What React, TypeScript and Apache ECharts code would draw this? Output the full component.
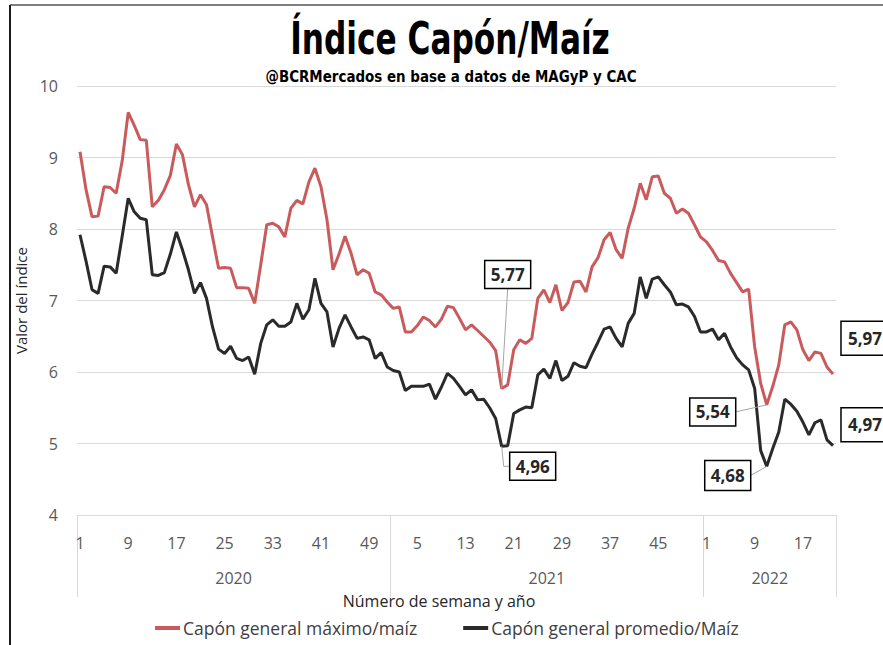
import React, { useEffect, useRef } from "react";
import * as echarts from "echarts";

const years = ["2020", "2021", "2022"];
const weeksPerYear = [52, 52, 22];
const yearCenters = [26, 78, 115];
const yearBounds = [0, 52, 104, 126];

const maxSeriesName = "Capón general máximo/maíz";
const avgSeriesName = "Capón general promedio/Maíz";

const maxValues = [
  9.08, 8.55, 8.17, 8.18, 8.59, 8.58, 8.50, 8.95, 9.63, 9.45,
  9.25, 9.24, 8.31, 8.40, 8.55, 8.75, 9.19, 9.04, 8.62, 8.31,
  8.48, 8.34, 7.89, 7.45, 7.46, 7.45, 7.18, 7.18, 7.17, 6.96,
  7.50, 8.06, 8.08, 8.03, 7.89, 8.29, 8.40, 8.35, 8.66, 8.85,
  8.59, 8.13, 7.43, 7.65, 7.90, 7.66, 7.36, 7.43, 7.38, 7.12,
  7.08, 6.98, 6.89, 6.91, 6.56, 6.56, 6.65, 6.77, 6.72, 6.63,
  6.74, 6.92, 6.90, 6.75, 6.59, 6.66, 6.58, 6.50, 6.42, 6.30,
  5.77, 5.82, 6.31, 6.45, 6.40, 6.47, 7.03, 7.15, 6.97, 7.22,
  6.86, 6.97, 7.26, 7.27, 7.12, 7.47, 7.60, 7.85, 7.95, 7.71,
  7.59, 8.01, 8.29, 8.64, 8.41, 8.73, 8.74, 8.50, 8.43, 8.22,
  8.28, 8.22, 8.06, 7.89, 7.82, 7.70, 7.56, 7.54, 7.38, 7.25,
  7.12, 7.16, 6.35, 5.84, 5.54, 5.80, 6.10, 6.66, 6.70, 6.59,
  6.31, 6.16, 6.28, 6.26, 6.07, 5.97,
];

const avgValues = [
  7.92, 7.55, 7.15, 7.10, 7.48, 7.47, 7.38, 7.90, 8.43, 8.24,
  8.15, 8.13, 7.36, 7.35, 7.39, 7.65, 7.96, 7.71, 7.43, 7.10,
  7.25, 7.03, 6.63, 6.32, 6.26, 6.36, 6.19, 6.16, 6.21, 5.97,
  6.40, 6.66, 6.73, 6.64, 6.64, 6.70, 6.96, 6.74, 6.87, 7.31,
  6.96, 6.84, 6.35, 6.61, 6.80, 6.63, 6.47, 6.49, 6.45, 6.19,
  6.27, 6.07, 6.02, 6.00, 5.74, 5.80, 5.80, 5.80, 5.83, 5.62,
  5.79, 5.98, 5.91, 5.80, 5.68, 5.75, 5.61, 5.62, 5.50, 5.35,
  4.96, 4.97, 5.42, 5.47, 5.51, 5.50, 5.96, 6.04, 5.91, 6.16,
  5.88, 5.94, 6.13, 6.08, 6.06, 6.25, 6.42, 6.60, 6.63, 6.47,
  6.35, 6.68, 6.82, 7.33, 7.03, 7.30, 7.33, 7.22, 7.12, 6.94,
  6.95, 6.91, 6.78, 6.56, 6.56, 6.60, 6.45, 6.54, 6.35, 6.20,
  6.10, 6.03, 5.77, 4.90, 4.68, 4.93, 5.16, 5.62, 5.55, 5.45,
  5.30, 5.12, 5.29, 5.33, 5.05, 4.97,
];

// annotated points: series index, data index, label text
const annotations = [
  { series: 0, index: 70, text: "5,77" },
  { series: 1, index: 70, text: "4,96" },
  { series: 0, index: 114, text: "5,54" },
  { series: 1, index: 114, text: "4,68" },
  { series: 0, index: 125, text: "5,97" },
  { series: 1, index: 125, text: "4,97" },
];

// label box placement relative to the point (style only)
const annotationStyles = [
  { dx: 6, dy: -114, w: 46, h: 28, leader: "up" },
  { dx: 31, dy: 20, w: 46, h: 28, leader: "elbow" },
  { dx: -54, dy: 7, w: 46, h: 28, leader: "left" },
  { dx: -39, dy: 9, w: 46, h: 30, leader: "left" },
  { dx: 32, dy: -36, w: 48, h: 34, leader: "none" },
  { dx: 32, dy: -21, w: 48, h: 34, leader: "none" },
];

const weekCategories: string[] = [];
years.forEach((y, yi) => {
  for (let w = 1; w <= weeksPerYear[yi]; w++) weekCategories.push(String(w));
});

const RED = "#c95b5c";
const DARK = "#2a2a2a";
const AXIS_TEXT = "#595959";
const FONT = "'Open Sans', 'Noto Sans', sans-serif";
const TITLE_FONT = "'DejaVu Sans', sans-serif";

export default function App() {
  const ref = useRef<HTMLDivElement>(null);

  useEffect(() => {
    if (!ref.current) return;
    const chart = echarts.init(ref.current, null, { renderer: "svg" });
    const seriesData = [maxValues, avgValues];

    chart.setOption({
      animation: false,
      backgroundColor: "#ffffff",
      grid: { left: 77, right: 47, top: 86, bottom: 130, containLabel: false },
      legend: {
        data: [maxSeriesName, avgSeriesName],
        left: 150,
        top: 614,
        icon: "rect",
        itemWidth: 25,
        itemHeight: 4,
        itemGap: 46,
        textStyle: { fontFamily: FONT, fontSize: 17.5, color: "#404040", padding: [0, 0, 0, -2] },
      },
      xAxis: [
        {
          type: "category",
          data: weekCategories,
          boundaryGap: true,
          axisLine: { show: true, lineStyle: { color: "#d9d9d9", width: 1 } },
          axisTick: { show: false },
          axisLabel: {
            interval: 7,
            margin: 20,
            fontFamily: FONT,
            fontSize: 16,
            color: AXIS_TEXT,
          },
          splitLine: { show: false },
        },
        {
          type: "value",
          position: "bottom",
          offset: 0,
          min: 0,
          max: 126,
          axisLine: { show: false },
          splitLine: { show: false },
          axisTick: {
            show: true,
            customValues: yearBounds,
            length: 82,
            lineStyle: { color: "#d9d9d9", width: 1 },
          },
          axisLabel: {
            show: true,
            customValues: yearCenters,
            margin: 55,
            fontFamily: FONT,
            fontSize: 16,
            color: AXIS_TEXT,
            formatter: (v: number) => years[yearCenters.indexOf(v)] ?? "",
          },
        },
      ],
      yAxis: {
        type: "value",
        min: 4,
        max: 10,
        interval: 1,
        name: "Valor del índice",
        nameLocation: "middle",
        nameGap: 38,
        nameTextStyle: { fontFamily: FONT, fontSize: 15, color: "#262626" },
        axisLine: { show: false },
        axisTick: { show: false },
        axisLabel: { margin: 19, fontFamily: FONT, fontSize: 16, color: AXIS_TEXT },
        splitLine: { lineStyle: { color: "#d9d9d9", width: 1 } },
      },
      series: [
        {
          name: maxSeriesName,
          type: "line",
          data: maxValues,
          symbol: "none",
          color: RED,
          lineStyle: { color: RED, width: 3 },
          z: 3,
        },
        {
          name: avgSeriesName,
          type: "line",
          data: avgValues,
          symbol: "none",
          color: DARK,
          lineStyle: { color: DARK, width: 3 },
          z: 4,
        },
      ],
    });

    const graphics: any[] = [
      {
        type: "line",
        shape: { x1: 10, y1: 5, x2: 883, y2: 5 },
        style: { stroke: "#7f7f7f", lineWidth: 2 },
      },
      {
        type: "line",
        shape: { x1: 10, y1: 5, x2: 10, y2: 645 },
        style: { stroke: "#1a1a1a", lineWidth: 2 },
      },
      {
        type: "text",
        x: 450,
        y: 38,
        scaleX: 0.78,
        scaleY: 1.12,
        style: {
          text: "Índice Capón/Maíz",
          fontFamily: TITLE_FONT,
          fontWeight: "bold",
          fontSize: 40,
          fill: "#000000",
          align: "center",
          verticalAlign: "middle",
        },
      },
      {
        type: "text",
        x: 451,
        y: 76,
        scaleX: 0.84,
        scaleY: 1.0,
        style: {
          text: "@BCRMercados en base a datos de MAGyP y CAC",
          fontFamily: TITLE_FONT,
          fontWeight: "bold",
          fontSize: 16,
          fill: "#000000",
          align: "center",
          verticalAlign: "middle",
        },
      },
      {
        type: "text",
        x: 439,
        y: 601,
        style: {
          text: "Número de semana y año",
          fontFamily: FONT,
          fontSize: 16,
          fill: "#262626",
          align: "center",
          verticalAlign: "middle",
        },
      },
    ];

    annotations.forEach((a, i) => {
      const st = annotationStyles[i];
      const val = seriesData[a.series][a.index];
      const p = chart.convertToPixel({ xAxisIndex: 0, yAxisIndex: 0 }, [a.index, val]) as number[];
      const cx = p[0] + st.dx;
      const cy = p[1] + st.dy;
      let pts: number[][] | null = null;
      if (st.leader === "up") pts = [[cx, cy + st.h / 2], [p[0], p[1]]];
      else if (st.leader === "elbow") pts = [[p[0], p[1]], [p[0] + 2, cy], [cx - st.w / 2, cy]];
      else if (st.leader === "left") pts = [[cx + st.w / 2, cy], [p[0], p[1]]];
      if (pts) {
        graphics.push({
          type: "polyline",
          shape: { points: pts },
          style: { stroke: "#a6a6a6", lineWidth: 1, fill: null },
          z: 90,
        });
      }
      graphics.push({
        type: "rect",
        shape: { x: cx - st.w / 2, y: cy - st.h / 2, width: st.w, height: st.h },
        style: { fill: "#ffffff", stroke: "#000000", lineWidth: 1.5 },
        z: 100,
      });
      graphics.push({
        type: "text",
        x: cx,
        y: cy,
        style: {
          text: a.text,
          fontFamily: FONT,
          fontWeight: "bold",
          fontSize: 17,
          fill: "#262626",
          align: "center",
          verticalAlign: "middle",
        },
        z: 101,
      });
    });

    chart.setOption({ graphic: graphics });

    return () => chart.dispose();
  }, []);

  return (
    <div
      ref={ref}
      style={{ position: "fixed", left: 0, top: 0, width: 883, height: 645, background: "#fff" }}
    />
  );
}
